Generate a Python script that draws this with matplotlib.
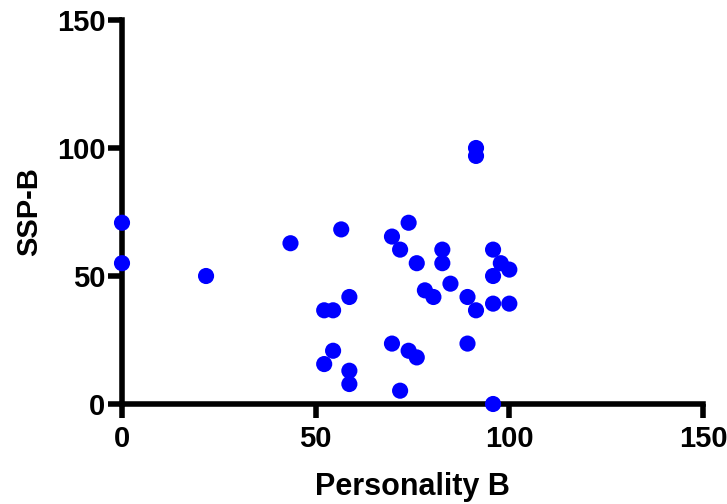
import matplotlib
matplotlib.use("Agg")
import matplotlib.pyplot as plt

# Personality B vs SSP-B
personality_b = [0, 0, 21.7, 43.5, 56.6, 69.7, 74.0, 71.8, 76.1, 82.7,
                 82.7, 84.8, 78.2, 80.4, 89.2, 91.4, 91.4, 91.4, 95.8, 97.8,
                 100, 95.8, 95.8, 100, 58.7, 52.2, 54.5, 54.5, 52.2, 58.7,
                 58.7, 69.7, 74.0, 76.1, 71.8, 89.2, 95.8]
ssp_b = [70.8, 55.0, 50.0, 62.8, 68.2, 65.4, 70.8, 60.3, 55.0, 60.3,
         55.0, 47.0, 44.4, 41.8, 41.8, 36.6, 100, 96.9, 60.3, 55.0,
         52.5, 50.0, 39.2, 39.2, 41.8, 36.6, 36.6, 20.8, 15.6, 13.0,
         7.8, 23.6, 20.8, 18.2, 5.2, 23.6, 0]

x_ticks = [0, 50, 100, 150]
y_ticks = [0, 50, 100, 150]

plt.rcParams['font.family'] = ['Liberation Sans', 'DejaVu Sans']
plt.rcParams['font.weight'] = 'bold'

fig = plt.figure(figsize=(7.27, 5.04), dpi=100)
ax = fig.add_axes([122 / 727, 1 - 404 / 504, (703 - 122) / 727, (404 - 20) / 504])

ax.scatter(personality_b, ssp_b, s=135, color='#0000ff', edgecolors='none',
           zorder=5, clip_on=False)

ax.set_xlim(0, 150)
ax.set_ylim(0, 150)
ax.set_xticks(x_ticks)
ax.set_yticks(y_ticks)

for side in ['top', 'right']:
    ax.spines[side].set_visible(False)
for side in ['left', 'bottom']:
    ax.spines[side].set_linewidth(4)
    ax.spines[side].set_capstyle('projecting')

ax.tick_params(axis='both', width=4, length=10, color='black',
               labelsize=21, direction='out')
ax.tick_params(axis='x', pad=5)
ax.tick_params(axis='y', pad=2)

ax.set_xlabel('Personality B', fontsize=22, fontweight='bold', labelpad=14)
ax.set_ylabel('SSP-B', fontsize=21, fontweight='bold', labelpad=10)

fig.savefig('out.png', dpi=100)
